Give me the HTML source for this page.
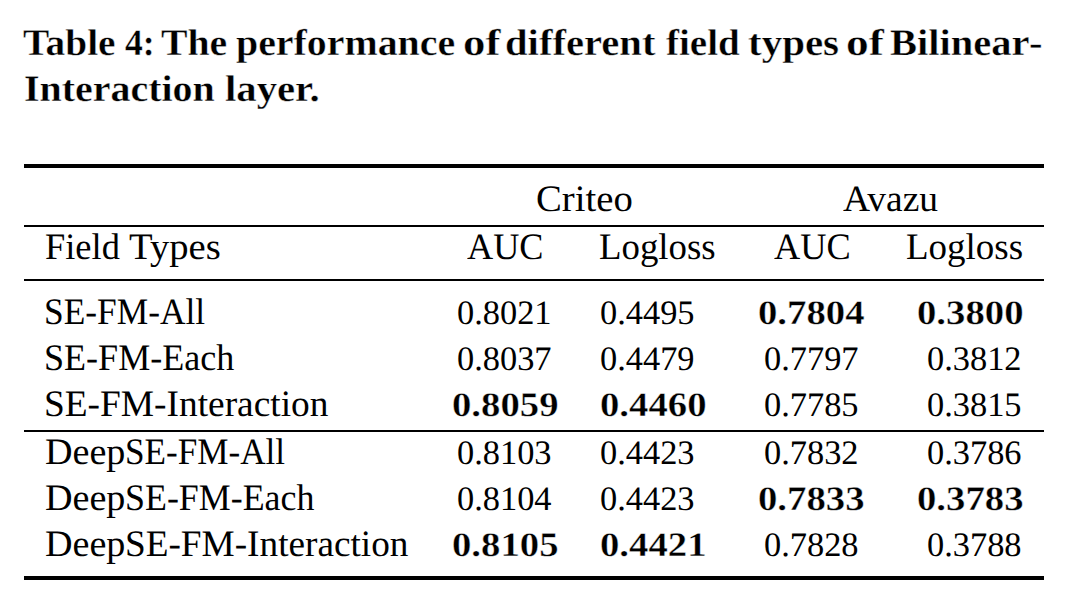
<!DOCTYPE html>
<html lang="en"><head><meta charset="utf-8"><title>Table 4</title><style>
html,body{margin:0;padding:0;background:#fff;}
body{width:1072px;height:596px;position:relative;overflow:hidden;font-family:"Liberation Serif",serif;color:#000;}
.t{position:absolute;white-space:nowrap;line-height:46px;height:46px;transform-origin:0 0;font-size:37.3px;text-rendering:geometricPrecision;}
.b{font-weight:bold;-webkit-text-stroke:0.35px #fff;}
.c{font-size:37.3px;}
.n{font-size:34.2px;}
.r{position:absolute;left:24px;width:1020px;background:#000;}
</style></head><body>
<span class="t b c" style="left:22.90px;top:21px;transform:scaleX(1.0540)">Table</span>
<span class="t b c" style="left:124.60px;top:21px;transform:scaleX(0.9571)">4:</span>
<span class="t b c" style="left:160.90px;top:21px;transform:scaleX(1.0656)">The</span>
<span class="t b c" style="left:235.90px;top:21px;transform:scaleX(1.0686)">performance</span>
<span class="t b c" style="left:463.43px;top:21px;transform:scaleX(1.2012)">of</span>
<span class="t b c" style="left:505.40px;top:21px;transform:scaleX(1.0892)">different</span>
<span class="t b c" style="left:665.90px;top:21px;transform:scaleX(1.0457)">field</span>
<span class="t b c" style="left:747.80px;top:21px;transform:scaleX(1.0988)">types</span>
<span class="t b c" style="left:846.41px;top:21px;transform:scaleX(1.2167)">of</span>
<span class="t b c" style="left:889.92px;top:21px;transform:scaleX(1.0854)">Bilinear</span>
<span class="t b c" style="left:1029.31px;top:21px;transform:scaleX(1.0900)">-</span>
<span class="t b c" style="left:23.73px;top:67px;transform:scaleX(1.0706)">Interaction</span>
<span class="t b c" style="left:224.51px;top:67px;transform:scaleX(1.0917)">layer.</span>
<span class="t" style="left:535.96px;top:177px;transform:scaleX(1.0385)">Criteo</span>
<span class="t" style="left:842.70px;top:177px;transform:scaleX(1.0053)">Avazu</span>
<span class="t" style="left:44.52px;top:225px;transform:scaleX(0.9763)">Field</span>
<span class="t" style="left:129.00px;top:225px;transform:scaleX(1.0364)">Types</span>
<span class="t" style="left:467.20px;top:225px;transform:scaleX(0.9714)">AUC</span>
<span class="t" style="left:599.21px;top:225px;transform:scaleX(0.9871)">Logloss</span>
<span class="t" style="left:774.00px;top:225px;transform:scaleX(0.9740)">AUC</span>
<span class="t" style="left:905.51px;top:225px;transform:scaleX(0.9914)">Logloss</span>
<span class="t" style="left:44.30px;top:290px;transform:scaleX(0.9479)">SE-FM-All</span>
<span class="t n" style="left:457.39px;top:291px;transform:scaleX(1.0054)">0.8021</span>
<span class="t n" style="left:600.49px;top:291px;transform:scaleX(1.0054)">0.4495</span>
<span class="t b n" style="left:757.87px;top:291px;transform:scaleX(1.1332)">0.7804</span>
<span class="t b n" style="left:916.62px;top:291px;transform:scaleX(1.1332)">0.3800</span>
<span class="t" style="left:44.27px;top:336px;transform:scaleX(0.9667)">SE-FM-Each</span>
<span class="t n" style="left:457.39px;top:337px;transform:scaleX(1.0054)">0.8037</span>
<span class="t n" style="left:600.49px;top:337px;transform:scaleX(1.0054)">0.4479</span>
<span class="t n" style="left:763.74px;top:337px;transform:scaleX(1.0054)">0.7797</span>
<span class="t n" style="left:926.74px;top:337px;transform:scaleX(1.0054)">0.3812</span>
<span class="t" style="left:44.20px;top:382px;transform:scaleX(1.0021)">SE-FM-Interaction</span>
<span class="t b n" style="left:452.37px;top:383px;transform:scaleX(1.1332)">0.8059</span>
<span class="t b n" style="left:600.37px;top:383px;transform:scaleX(1.1332)">0.4460</span>
<span class="t n" style="left:763.74px;top:383px;transform:scaleX(1.0054)">0.7785</span>
<span class="t n" style="left:926.74px;top:383px;transform:scaleX(1.0054)">0.3815</span>
<span class="t" style="left:44.88px;top:430px;transform:scaleX(1.0221)">Deep</span>
<span class="t" style="left:125.02px;top:430px;transform:scaleX(0.9419)">SE-FM-All</span>
<span class="t n" style="left:457.39px;top:431px;transform:scaleX(1.0054)">0.8103</span>
<span class="t n" style="left:600.49px;top:431px;transform:scaleX(1.0054)">0.4423</span>
<span class="t n" style="left:763.74px;top:431px;transform:scaleX(1.0054)">0.7832</span>
<span class="t n" style="left:926.74px;top:431px;transform:scaleX(1.0054)">0.3786</span>
<span class="t" style="left:44.88px;top:476px;transform:scaleX(1.0221)">Deep</span>
<span class="t" style="left:124.98px;top:476px;transform:scaleX(0.9621)">SE-FM-Each</span>
<span class="t n" style="left:457.39px;top:477px;transform:scaleX(1.0054)">0.8104</span>
<span class="t n" style="left:600.49px;top:477px;transform:scaleX(1.0054)">0.4423</span>
<span class="t b n" style="left:757.87px;top:477px;transform:scaleX(1.1332)">0.7833</span>
<span class="t b n" style="left:916.62px;top:477px;transform:scaleX(1.1332)">0.3783</span>
<span class="t" style="left:44.88px;top:522px;transform:scaleX(1.0221)">Deep</span>
<span class="t" style="left:124.90px;top:522px;transform:scaleX(0.9986)">SE-FM-Interaction</span>
<span class="t b n" style="left:452.37px;top:523px;transform:scaleX(1.1332)">0.8105</span>
<span class="t b n" style="left:600.37px;top:523px;transform:scaleX(1.1332)">0.4421</span>
<span class="t n" style="left:763.74px;top:523px;transform:scaleX(1.0054)">0.7828</span>
<span class="t n" style="left:926.74px;top:523px;transform:scaleX(1.0054)">0.3788</span>
<div class="r" style="top:164px;height:4px"></div>
<div class="r" style="top:225px;height:2px"></div>
<div class="r" style="top:279px;height:2px"></div>
<div class="r" style="top:430px;height:2px"></div>
<div class="r" style="top:576px;height:4px"></div>
</body></html>
